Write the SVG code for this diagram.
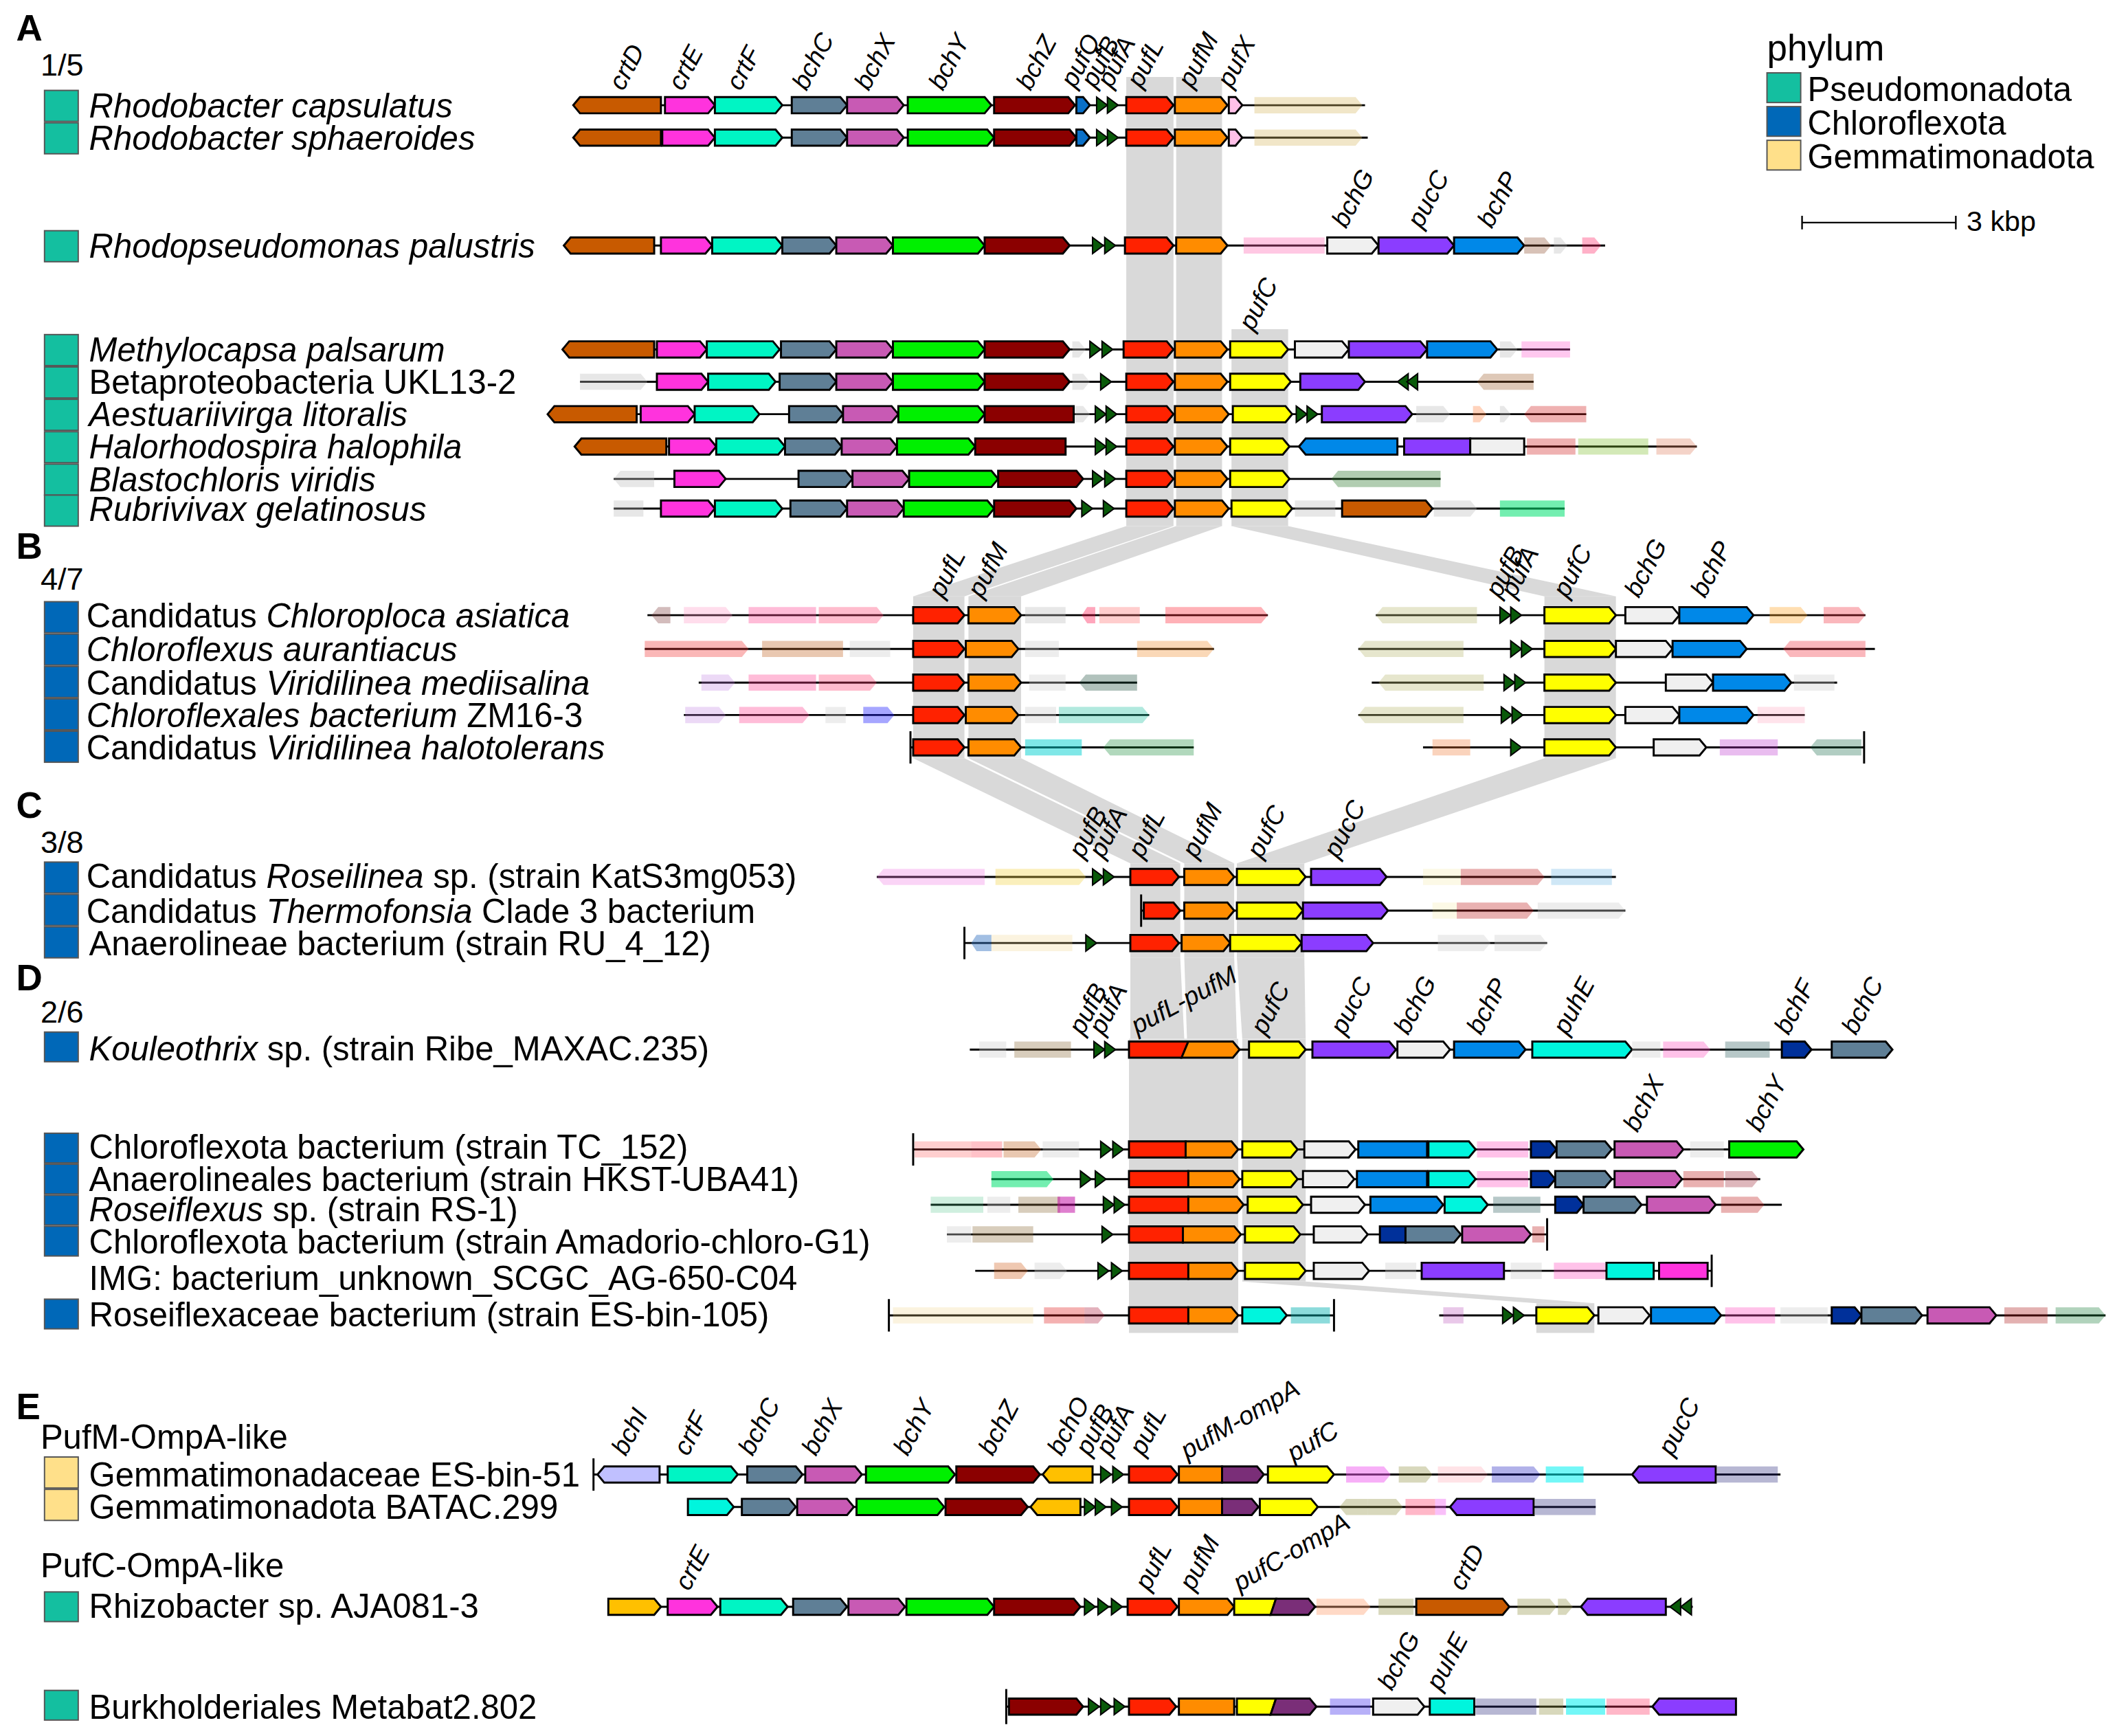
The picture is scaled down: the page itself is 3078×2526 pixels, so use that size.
<svg xmlns="http://www.w3.org/2000/svg" xmlns:xlink="http://www.w3.org/1999/xlink" width="3078" height="2526" viewBox="0 0 3078 2526">
<style>
text{font-family:"Liberation Sans",Arial,sans-serif;fill:#000}
.nm{font-size:25px}
.sec{font-size:27px;font-weight:bold}
.num{font-size:23px}
.gl{font-size:19px;font-style:italic}
.i{font-style:italic}
.ln{stroke:#333;stroke-width:1.2;fill:none}
.tk{stroke:#000;stroke-width:1.2}
.band{fill:#d9d9d9}
.g path{stroke:#000;stroke-width:1.5;stroke-linejoin:miter}
.g path.f{stroke:none;opacity:.35}
.cd{fill:#C85A00}.ce{fill:#FF33DD}.cf{fill:#00F5C4}.bc{fill:#5F7F96}.bx{fill:#C85AB4}.by{fill:#00F000}.bz{fill:#8B0000}
.pq{fill:#0A70C8}.pl{fill:#FF2200}.pm{fill:#FF8C00}.px{fill:#FFC0E8}.pc{fill:#FFFF00}.bg{fill:#F0F0F0}.uc{fill:#8B3DFF}
.bp{fill:#0088E8}.ue{fill:#00F5DD}.bf{fill:#00309A}.bo{fill:#FFC000}.bi{fill:#C0C0FF}.om{fill:#7A2E78}
.ba{fill:#0A5A0A;stroke:#000;stroke-width:1}
.sq1{fill:#14BFA0;stroke:#555;stroke-width:1}.sq2{fill:#0068B8;stroke:#555;stroke-width:1}.sq3{fill:#FFE08A;stroke:#555;stroke-width:1}
</style>
<defs>
<path id="ba" d="M0,-6L8,0L0,6z"/>
<path id="bal" d="M8,-6L0,0L8,6z"/>
</defs>
<g transform="scale(1.963)">
<g id="connectors">
<polygon class="band" points="835,57 870,57 870,390 835,390"/>
<polygon class="band" points="835,390 870,390 715,442 677,442"/>
<polygon class="band" points="677,442 715,442 715,562 677,562"/>
<polygon class="band" points="677,562 715,562 875,640 838,640"/>
<polygon class="band" points="838,640 875,640 875,710 838,710"/>
<polygon class="band" points="838,710 875,710 878,770 838,770"/>
<polygon class="band" points="872,57 906,57 906,390 872,390"/>
<polygon class="band" points="872,390 906,390 757,442 718,442"/>
<polygon class="band" points="718,442 757,442 757,562 718,562"/>
<polygon class="band" points="718,562 757,562 915,640 878,640"/>
<polygon class="band" points="878,640 915,640 915,710 878,710"/>
<polygon class="band" points="878,710 915,710 917,770 880,770"/>
<polygon class="band" points="837,770 918,770 918,988 837,988"/>
<polygon class="band" points="913,244 955,244 955,390 913,390"/>
<polygon class="band" points="913,390 955,390 1198,442 1145,442"/>
<polygon class="band" points="1145,442 1198,442 1198,562 1145,562"/>
<polygon class="band" points="1145,562 1198,562 967,640 917,640"/>
<polygon class="band" points="917,640 967,640 967,710 917,710"/>
<polygon class="band" points="917,710 967,710 968,770 921,770"/>
<polygon class="band" points="921,770 968,770 968,950 921,950"/>
<polygon class="band" points="921,950 968,950 1182,966 1139,966"/>
<polygon class="band" points="1139,966 1182,966 1182,988 1139,988"/>
</g>

<text class="sec" x="12" y="30">A</text><text class="num" x="30" y="56">1/5</text>
<text class="sec" x="12" y="414">B</text><text class="num" x="30" y="437">4/7</text>
<text class="sec" x="12" y="606">C</text><text class="num" x="30" y="632">3/8</text>
<text class="sec" x="12" y="734">D</text><text class="num" x="30" y="758">2/6</text>
<text class="sec" x="12" y="1052">E</text>
<text class="nm" x="30" y="1074">PufM-OmpA-like</text>
<text class="nm" x="30" y="1169">PufC-OmpA-like</text>

<g id="legend">
<text x="1310" y="45" style="font-size:27px">phylum</text>
<rect class="sq1" x="1310" y="54" width="25" height="22"/><text class="nm" x="1340" y="75">Pseudomonadota</text>
<rect class="sq2" x="1310" y="79" width="25" height="22"/><text class="nm" x="1340" y="100">Chloroflexota</text>
<rect class="sq3" x="1310" y="104" width="25" height="22"/><text class="nm" x="1340" y="125">Gemmatimonadota</text>
<path class="tk" d="M1336,165H1450M1336,160V170M1450,160V170"/>
<text x="1458" y="171" style="font-size:21px">3 kbp</text>
</g>

<g id="names">
<rect class="sq1" x="33" y="67" width="25" height="23"/><text class="nm i" x="66" y="87">Rhodobacter capsulatus</text>
<rect class="sq1" x="33" y="91" width="25" height="23"/><text class="nm i" x="66" y="111">Rhodobacter sphaeroides</text>
<rect class="sq1" x="33" y="171" width="25" height="23"/><text class="nm i" x="66" y="191">Rhodopseudomonas palustris</text>
<rect class="sq1" x="33" y="248" width="25" height="23"/><text class="nm i" x="66" y="268">Methylocapsa palsarum</text>
<rect class="sq1" x="33" y="272" width="25" height="23"/><text class="nm" x="66" y="292">Betaproteobacteria UKL13-2</text>
<rect class="sq1" x="33" y="296" width="25" height="23"/><text class="nm i" x="66" y="316">Aestuariivirga litoralis</text>
<rect class="sq1" x="33" y="320" width="25" height="23"/><text class="nm i" x="66" y="340">Halorhodospira halophila</text>
<rect class="sq1" x="33" y="344" width="25" height="23"/><text class="nm i" x="66" y="364">Blastochloris viridis</text>
<rect class="sq1" x="33" y="367" width="25" height="23"/><text class="nm i" x="66" y="386">Rubrivivax gelatinosus</text>

<rect class="sq2" x="33" y="446" width="25" height="23"/><text class="nm" x="64" y="465">Candidatus <tspan class="i">Chloroploca asiatica</tspan></text>
<rect class="sq2" x="33" y="470" width="25" height="23"/><text class="nm i" x="64" y="490">Chloroflexus aurantiacus</text>
<rect class="sq2" x="33" y="494" width="25" height="23"/><text class="nm" x="64" y="515">Candidatus <tspan class="i">Viridilinea mediisalina</tspan></text>
<rect class="sq2" x="33" y="518" width="25" height="23"/><text class="nm" x="64" y="539"><tspan class="i">Chloroflexales bacterium</tspan> ZM16-3</text>
<rect class="sq2" x="33" y="542" width="25" height="23"/><text class="nm" x="64" y="563">Candidatus <tspan class="i">Viridilinea halotolerans</tspan></text>

<rect class="sq2" x="33" y="639" width="25" height="23"/><text class="nm" x="64" y="658">Candidatus <tspan class="i">Roseilinea</tspan> sp. (strain KatS3mg053)</text>
<rect class="sq2" x="33" y="663" width="25" height="23"/><text class="nm" x="64" y="684">Candidatus <tspan class="i">Thermofonsia</tspan> Clade 3 bacterium</text>
<rect class="sq2" x="33" y="687" width="25" height="23"/><text class="nm" x="66" y="708">Anaerolineae bacterium (strain RU_4_12)</text>

<rect class="sq2" x="33" y="765" width="25" height="22"/><text class="nm" x="66" y="786"><tspan class="i">Kouleothrix</tspan> sp. (strain Ribe_MAXAC.235)</text>
<rect class="sq2" x="33" y="840" width="25" height="22"/><text class="nm" x="66" y="859">Chloroflexota bacterium (strain TC_152)</text>
<rect class="sq2" x="33" y="863" width="25" height="22"/><text class="nm" x="66" y="883">Anaerolineales bacterium (strain HKST-UBA41)</text>
<rect class="sq2" x="33" y="886" width="25" height="22"/><text class="nm" x="66" y="905"><tspan class="i">Roseiflexus</tspan> sp. (strain RS-1)</text>
<rect class="sq2" x="33" y="909" width="25" height="22"/><text class="nm" x="66" y="929">Chloroflexota bacterium (strain Amadorio-chloro-G1)</text>
<text class="nm" x="66" y="956">IMG: bacterium_unknown_SCGC_AG-650-C04</text>
<rect class="sq2" x="33" y="963" width="25" height="22"/><text class="nm" x="66" y="983">Roseiflexaceae bacterium (strain ES-bin-105)</text>

<rect class="sq3" x="33" y="1080" width="25" height="23"/><text class="nm" x="66" y="1102">Gemmatimonadaceae ES-bin-51</text>
<rect class="sq3" x="33" y="1104" width="25" height="23"/><text class="nm" x="66" y="1126">Gemmatimonadota BATAC.299</text>
<rect class="sq1" x="33" y="1180" width="25" height="22"/><text class="nm" x="66" y="1199">Rhizobacter sp. AJA081-3</text>
<rect class="sq1" x="33" y="1253" width="25" height="22"/><text class="nm" x="66" y="1274">Burkholderiales Metabat2.802</text>
</g>

<g id="labels">
<text class="gl" transform="translate(462,68) rotate(-62)">crtD</text>
<text class="gl" transform="translate(506,68) rotate(-62)">crtE</text>
<text class="gl" transform="translate(549,68) rotate(-62)">crtF</text>
<text class="gl" transform="translate(598,68) rotate(-62)">bchC</text>
<text class="gl" transform="translate(644,68) rotate(-62)">bchX</text>
<text class="gl" transform="translate(699,68) rotate(-62)">bchY</text>
<text class="gl" transform="translate(764,68) rotate(-62)">bchZ</text>
<text class="gl" transform="translate(797,66) rotate(-62)">pufQ</text>
<text class="gl" transform="translate(812,66) rotate(-62)">pufB</text>
<text class="gl" transform="translate(824,66) rotate(-62)">pufA</text>
<text class="gl" transform="translate(846,66) rotate(-62)">pufL</text>
<text class="gl" transform="translate(884,66) rotate(-62)">pufM</text>
<text class="gl" transform="translate(913,66) rotate(-62)">pufX</text>
<text class="gl" transform="translate(998,170) rotate(-62)">bchG</text>
<text class="gl" transform="translate(1054,170) rotate(-62)">pucC</text>
<text class="gl" transform="translate(1106,170) rotate(-62)">bchP</text>
<text class="gl" transform="translate(929,246) rotate(-62)">pufC</text>
<text class="gl" transform="translate(699,444) rotate(-62)">pufL</text>
<text class="gl" transform="translate(728,444) rotate(-62)">pufM</text>
<text class="gl" transform="translate(1112,444) rotate(-62)">pufB</text>
<text class="gl" transform="translate(1123,444) rotate(-62)">pufA</text>
<text class="gl" transform="translate(1162,444) rotate(-62)">pufC</text>
<text class="gl" transform="translate(1215,444) rotate(-62)">bchG</text>
<text class="gl" transform="translate(1264,444) rotate(-62)">bchP</text>
<text class="gl" transform="translate(803,637) rotate(-62)">pufB</text>
<text class="gl" transform="translate(818,637) rotate(-62)">pufA</text>
<text class="gl" transform="translate(847,637) rotate(-62)">pufL</text>
<text class="gl" transform="translate(887,637) rotate(-62)">pufM</text>
<text class="gl" transform="translate(935,637) rotate(-62)">pufC</text>
<text class="gl" transform="translate(992,637) rotate(-62)">pucC</text>
<text class="gl" transform="translate(803,768) rotate(-62)">pufB</text>
<text class="gl" transform="translate(818,768) rotate(-62)">pufA</text>
<text class="gl" transform="translate(843,767) rotate(-28)">pufL-pufM</text>
<text class="gl" transform="translate(938,768) rotate(-62)">pufC</text>
<text class="gl" transform="translate(997,768) rotate(-62)">pucC</text>
<text class="gl" transform="translate(1044,768) rotate(-62)">bchG</text>
<text class="gl" transform="translate(1098,768) rotate(-62)">bchP</text>
<text class="gl" transform="translate(1162,768) rotate(-62)">puhE</text>
<text class="gl" transform="translate(1326,768) rotate(-62)">bchF</text>
<text class="gl" transform="translate(1376,768) rotate(-62)">bchC</text>
<text class="gl" transform="translate(1214,840) rotate(-62)">bchX</text>
<text class="gl" transform="translate(1305,840) rotate(-62)">bchY</text>
<text class="gl" transform="translate(464,1080) rotate(-62)">bchI</text>
<text class="gl" transform="translate(510,1080) rotate(-62)">crtF</text>
<text class="gl" transform="translate(558,1080) rotate(-62)">bchC</text>
<text class="gl" transform="translate(605,1080) rotate(-62)">bchX</text>
<text class="gl" transform="translate(673,1080) rotate(-62)">bchY</text>
<text class="gl" transform="translate(736,1080) rotate(-62)">bchZ</text>
<text class="gl" transform="translate(787,1080) rotate(-62)">bchO</text>
<text class="gl" transform="translate(808,1080) rotate(-62)">pufB</text>
<text class="gl" transform="translate(823,1080) rotate(-62)">pufA</text>
<text class="gl" transform="translate(848,1080) rotate(-62)">pufL</text>
<text class="gl" transform="translate(880,1082) rotate(-30)">pufM-ompA</text>
<text class="gl" transform="translate(959,1084) rotate(-30)">pufC</text>
<text class="gl" transform="translate(1240,1080) rotate(-62)">pucC</text>
<text class="gl" transform="translate(511,1180) rotate(-62)">crtE</text>
<text class="gl" transform="translate(852,1180) rotate(-62)">pufL</text>
<text class="gl" transform="translate(885,1180) rotate(-62)">pufM</text>
<text class="gl" transform="translate(919,1180) rotate(-30)">pufC-ompA</text>
<text class="gl" transform="translate(1085,1180) rotate(-62)">crtD</text>
<text class="gl" transform="translate(1032,1254) rotate(-62)">bchG</text>
<text class="gl" transform="translate(1068,1254) rotate(-62)">puhE</text>
</g>

<g id="rows">
<g id="r-caps" class="g" transform="translate(0,78)">
<path class="ln" d="M425,0H1012"/>
<path class="cd" d="M490,-6V6H430L425,0L430,-6z"/>
<path class="ce" d="M493,-6H525l5,6-5,6H493z"/><path class="cf" d="M530,-6H575l5,6-5,6H530z"/>
<path class="bc" d="M587,-6H623l5,6-5,6H587z"/><path class="bx" d="M628,-6H665l5,6-5,6H628z"/>
<path class="by" d="M673,-6H730l5,6-5,6H673z"/><path class="bz" d="M737,-6H792l5,6-5,6H737z"/>
<path class="pq" d="M798,-6H803l5,6-5,6H798z"/>
<use href="#ba" class="ba" x="813"/><use href="#ba" class="ba" x="821"/>
<path class="pl" d="M835,-6H865l5,6-5,6H835z"/><path class="pm" d="M871,-6H905l5,6-5,6H871z"/>
<path class="px" d="M911,-6H916l5,6-5,6H911z"/>
<path class="f" style="fill:#D8B860" d="M930,-6H1005l5,6-5,6H930z"/>
</g>
<g id="r-sph" class="g" transform="translate(0,102)">
<path class="ln" d="M425,0H1014"/>
<path class="cd" d="M490,-6V6H430L425,0L430,-6z"/>
<path class="ce" d="M491,-6H525l5,6-5,6H491z"/><path class="cf" d="M530,-6H575l5,6-5,6H530z"/>
<path class="bc" d="M587,-6H623l5,6-5,6H587z"/><path class="bx" d="M628,-6H665l5,6-5,6H628z"/>
<path class="by" d="M673,-6H732l5,6-5,6H673z"/><path class="bz" d="M737,-6H793l5,6-5,6H737z"/>
<path class="pq" d="M798,-6H803l5,6-5,6H798z"/>
<use href="#ba" class="ba" x="813"/><use href="#ba" class="ba" x="821"/>
<path class="pl" d="M835,-6H865l5,6-5,6H835z"/><path class="pm" d="M871,-6H905l5,6-5,6H871z"/>
<path class="px" d="M911,-6H916l5,6-5,6H911z"/>
<path class="f" style="fill:#D8B860" d="M930,-6H1005l5,6-5,6H930z"/>
</g>
<g id="r-pal" class="g" transform="translate(0,182)">
<path class="ln" d="M418,0H1190"/>
<path class="cd" d="M485,-6V6H423L418,0L423,-6z"/>
<path class="ce" d="M490,-6H523l5,6-5,6H490z"/><path class="cf" d="M528,-6H575l5,6-5,6H528z"/>
<path class="bc" d="M580,-6H615l5,6-5,6H580z"/><path class="bx" d="M620,-6H657l5,6-5,6H620z"/>
<path class="by" d="M662,-6H725l5,6-5,6H662z"/><path class="bz" d="M730,-6H788l5,6-5,6H730z"/>
<use href="#ba" class="ba" x="810"/><use href="#ba" class="ba" x="819"/>
<path class="pl" d="M834,-6H865l5,6-5,6H834z"/><path class="pm" d="M872,-6H905l5,6-5,6H872z"/>
<path class="f" style="fill:#FF60B0" d="M922,-6H982V6H922z"/>
<path class="bg" d="M984,-6H1017l5,6-5,6H984z"/><path class="uc" d="M1022,-6H1073l5,6-5,6H1022z"/>
<path class="bp" d="M1078,-6H1125l5,6-5,6H1078z"/>
<path class="f" style="fill:#905030" d="M1130,-6H1145l5,6-5,6H1130z"/>
<path class="f" style="fill:#bbb" d="M1152,-6H1157l5,6-5,6H1152z"/>
<path class="f" style="fill:#FF2060" d="M1173,-6H1182l5,6-5,6H1173z"/>
</g>
<g id="r-methylo" class="g" transform="translate(0,259)">
<path class="ln" d="M417,0H1164"/>
<path class="cd" d="M485,-6V6H422L417,0L422,-6z"/>
<path class="ce" d="M487,-6H519l5,6-5,6H487z"/><path class="cf" d="M524,-6H573l5,6-5,6H524z"/>
<path class="bc" d="M579,-6H615l5,6-5,6H579z"/><path class="bx" d="M620,-6H657l5,6-5,6H620z"/>
<path class="by" d="M662,-6H725l5,6-5,6H662z"/><path class="bz" d="M730,-6H788l5,6-5,6H730z"/>
<path class="f" style="fill:#bbb" d="M795,-6H800l5,6-5,6H795z"/>
<use href="#ba" class="ba" x="808"/><use href="#ba" class="ba" x="817"/>
<path class="pl" d="M833,-6H865l5,6-5,6H833z"/><path class="pm" d="M871,-6H905l5,6-5,6H871z"/>
<path class="pc" d="M912,-6H950l5,6-5,6H912z"/><path class="bg" d="M960,-6H995l5,6-5,6H960z"/>
<path class="uc" d="M1000,-6H1053l5,6-5,6H1000z"/><path class="bp" d="M1058,-6H1105l5,6-5,6H1058z"/>
<path class="f" style="fill:#bbb" d="M1112,-6H1120l5,6-5,6H1112z"/>
<path class="f" style="fill:#FF60D0" d="M1128,-6H1164V6H1128z"/>
</g>
<g id="r-beta" class="g" transform="translate(0,283)">
<path class="ln" d="M430,0H1137"/>
<path class="f" style="fill:#bbb" d="M430,-6H475l5,6-5,6H430z"/>
<path class="ce" d="M487,-6H520l5,6-5,6H487z"/><path class="cf" d="M525,-6H570l5,6-5,6H525z"/>
<path class="bc" d="M578,-6H615l5,6-5,6H578z"/><path class="bx" d="M620,-6H657l5,6-5,6H620z"/>
<path class="by" d="M662,-6H725l5,6-5,6H662z"/><path class="bz" d="M730,-6H788l5,6-5,6H730z"/>
<path class="f" style="fill:#bbb" d="M795,-6H803l5,6-5,6H795z"/>
<use href="#ba" class="ba" x="816"/>
<path class="pl" d="M835,-6H865l5,6-5,6H835z"/><path class="pm" d="M871,-6H905l5,6-5,6H871z"/>
<path class="pc" d="M912,-6H952l5,6-5,6H912z"/><path class="uc" d="M964,-6H1007l5,6-5,6H964z"/>
<use href="#bal" class="ba" x="1036"/><use href="#bal" class="ba" x="1043"/>
<path class="f" style="fill:#A06030" d="M1100,-6H1137V6H1100L1095,0z"/>
</g>
<g id="r-aest" class="g" transform="translate(0,307)">
<path class="ln" d="M406,0H1176"/>
<path class="cd" d="M472,-6V6H411L406,0L411,-6z"/>
<path class="ce" d="M475,-6H510l5,6-5,6H475z"/><path class="cf" d="M515,-6H558l5,6-5,6H515z"/>
<path class="bc" d="M585,-6H620l5,6-5,6H585z"/><path class="bx" d="M625,-6H661l5,6-5,6H625z"/>
<path class="by" d="M666,-6H725l5,6-5,6H666z"/><path class="bz" d="M730,-6H796V6H730z"/>
<path class="f" style="fill:#bbb" d="M797,-6H803l5,6-5,6H797z"/>
<use href="#ba" class="ba" x="812"/><use href="#ba" class="ba" x="820"/>
<path class="pl" d="M835,-6H865l5,6-5,6H835z"/><path class="pm" d="M871,-6H906l5,6-5,6H871z"/>
<path class="pc" d="M914,-6H953l5,6-5,6H914z"/>
<use href="#ba" class="ba" x="961"/><use href="#ba" class="ba" x="969"/>
<path class="uc" d="M980,-6H1042l5,6-5,6H980z"/>
<path class="f" style="fill:#bbb" d="M1050,-6H1070l5,6-5,6H1050z"/>
<path class="f" style="fill:#FF8040" d="M1092,-6H1097l5,6-5,6H1092z"/>
<path class="f" style="fill:#bbb" d="M1112,-6H1115l5,6-5,6H1112z"/>
<path class="f" style="fill:#D02020" d="M1135,-6H1176V6H1135L1130,0z"/>
</g>
<g id="r-halo" class="g" transform="translate(0,331)">
<path class="ln" d="M426,0H1258"/>
<path class="cd" d="M494,-6V6H431L426,0L431,-6z"/>
<path class="ce" d="M496,-6H526l5,6-5,6H496z"/><path class="cf" d="M531,-6H577l5,6-5,6H531z"/>
<path class="bc" d="M582,-6H619l5,6-5,6H582z"/><path class="bx" d="M624,-6H660l5,6-5,6H624z"/>
<path class="by" d="M665,-6H718l5,6-5,6H665z"/><path class="bz" d="M723,-6H790V6H723z"/>
<use href="#ba" class="ba" x="812"/><use href="#ba" class="ba" x="820"/>
<path class="pl" d="M835,-6H865l5,6-5,6H835z"/><path class="pm" d="M871,-6H905l5,6-5,6H871z"/>
<path class="pc" d="M912,-6H951l5,6-5,6H912z"/>
<path class="bp" d="M1036,-6V6H968L963,0L968,-6z"/>
<path class="uc" d="M1041,-6V6H1090V-6z"/>
<path class="bg" d="M1090,-6H1130V6H1090z"/>
<path class="f" style="fill:#D02020" d="M1132,-6H1168V6H1132z"/>
<path class="f" style="fill:#80C030" d="M1170,-6H1222V6H1170z"/>
<path class="f" style="fill:#E08060" d="M1228,-6H1253l5,6-5,6H1228z"/>
</g>
<g id="r-blasto" class="g" transform="translate(0,355)">
<path class="ln" d="M455,0H1068"/>
<path class="f" style="fill:#bbb" d="M460,-6H485V6H460L455,0z"/>
<path class="ce" d="M500,-6H533l5,6-5,6H500z"/>
<path class="bc" d="M592,-6H627l5,6-5,6H592z"/><path class="bx" d="M632,-6H669l5,6-5,6H632z"/>
<path class="by" d="M674,-6H735l5,6-5,6H674z"/><path class="bz" d="M740,-6H798l5,6-5,6H740z"/>
<use href="#ba" class="ba" x="810"/><use href="#ba" class="ba" x="819"/>
<path class="pl" d="M835,-6H865l5,6-5,6H835z"/><path class="pm" d="M871,-6H905l5,6-5,6H871z"/>
<path class="pc" d="M912,-6H951l5,6-5,6H912z"/>
<path class="f" style="fill:#207020" d="M992,-6H1068V6H992L987,0z"/>
</g>
<g id="r-rubri" class="g" transform="translate(0,377)">
<path class="ln" d="M455,0H1160"/>
<path class="f" style="fill:#bbb" d="M455,-6H477V6H455z"/>
<path class="ce" d="M490,-6H525l5,6-5,6H490z"/><path class="cf" d="M530,-6H575l5,6-5,6H530z"/>
<path class="bc" d="M586,-6H623l5,6-5,6H586z"/><path class="bx" d="M628,-6H665l5,6-5,6H628z"/>
<path class="by" d="M670,-6H732l5,6-5,6H670z"/><path class="bz" d="M737,-6H793l5,6-5,6H737z"/>
<use href="#ba" class="ba" x="802"/><use href="#ba" class="ba" x="818"/>
<path class="pl" d="M835,-6H865l5,6-5,6H835z"/><path class="pm" d="M871,-6H906l5,6-5,6H871z"/>
<path class="pc" d="M913,-6H953l5,6-5,6H913z"/>
<path class="f" style="fill:#bbb" d="M960,-6H990V6H960z"/>
<path class="cd" d="M995,-6H1057l5,6-5,6H995z"/>
<path class="f" style="fill:#bbb" d="M1063,-6H1090l5,6-5,6H1063z"/>
<path class="f" style="fill:#00E070;opacity:.55" d="M1112,-6H1160V6H1112z"/>
</g>

<g id="r-chloroploca" class="g" transform="translate(0,456)">
<path class="ln" d="M480,0H940M1020,0H1383"/>
<path class="f" style="fill:#804040" d="M488,-6H497V6H488L483,0z"/>
<path class="f" style="fill:#FF90C0;opacity:.3" d="M507,-6H538l5,6-5,6H507z"/>
<path class="f" style="fill:#FF4090" d="M555,-6H605V6H555z"/><path class="f" style="fill:#FF4070" d="M607,-6H650l5,6-5,6H607z"/>
<path class="pl" d="M677,-6H710l5,6-5,6H677z"/><path class="pm" d="M718,-6H752l5,6-5,6H718z"/>
<path class="f" style="fill:#bbb" d="M760,-6H790V6H760z"/>
<path class="f" style="fill:#FF0040" d="M806,-6H812V6H806L802,0z"/><path class="f" style="fill:#FF7070" d="M815,-6H845V6H815z"/>
<path class="f" style="fill:#FF2030" d="M864,-6H935l5,6-5,6H864z"/>
<path class="f" style="fill:#B8B870" d="M1025,-6H1095V6H1025L1020,0z"/>
<use href="#ba" class="ba" x="1112"/><use href="#ba" class="ba" x="1120"/>
<path class="pc" d="M1145,-6H1193l5,6-5,6H1145z"/><path class="bg" d="M1205,-6H1240l5,6-5,6H1205z"/>
<path class="bp" d="M1245,-6H1295l5,6-5,6H1245z"/>
<path class="f" style="fill:#FFA020" d="M1312,-6H1335l5,6-5,6H1312z"/>
<path class="f" style="fill:#F03040" d="M1352,-6H1378l5,6-5,6H1352z"/>
</g>
<g id="r-chloroflexus" class="g" transform="translate(0,481)">
<path class="ln" d="M478,0H900M1007,0H1390"/>
<path class="f" style="fill:#F03030" d="M478,-6H550l5,6-5,6H478z"/>
<path class="f" style="fill:#C06020" d="M565,-6H625V6H565z"/>
<path class="f" style="fill:#ccc" d="M630,-6H660V6H630z"/>
<path class="pl" d="M677,-6H710l5,6-5,6H677z"/><path class="pm" d="M716,-6H750l5,6-5,6H716z"/>
<path class="f" style="fill:#ccc" d="M760,-6H785V6H760z"/>
<path class="f" style="fill:#F09030" d="M843,-6H895l5,6-5,6H843z"/>
<path class="f" style="fill:#B8B870" d="M1012,-6H1085V6H1012L1007,0z"/>
<use href="#ba" class="ba" x="1120"/><use href="#ba" class="ba" x="1128"/>
<path class="pc" d="M1145,-6H1193l5,6-5,6H1145z"/><path class="bg" d="M1198,-6H1235l5,6-5,6H1198z"/>
<path class="bp" d="M1240,-6H1290l5,6-5,6H1240z"/>
<path class="f" style="fill:#F03040" d="M1327,-6H1383V6H1327L1322,0z"/>
</g>
<g id="r-vmed" class="g" transform="translate(0,506)">
<path class="ln" d="M518,0H843M1017,0H1362"/>
<path class="f" style="fill:#C080E0;opacity:.3" d="M520,-6H540l5,6-5,6H520z"/>
<path class="f" style="fill:#FF4090" d="M555,-6H605V6H555z"/><path class="f" style="fill:#FF4070" d="M607,-6H645l5,6-5,6H607z"/>
<path class="pl" d="M677,-6H710l5,6-5,6H677z"/><path class="pm" d="M718,-6H752l5,6-5,6H718z"/>
<path class="f" style="fill:#ccc" d="M763,-6H790V6H763z"/>
<path class="f" style="fill:#205040" d="M805,-6H843V6H805L800,0z"/>
<path class="f" style="fill:#B8B870" d="M1027,-6H1100V6H1027L1022,0z"/>
<use href="#ba" class="ba" x="1115"/><use href="#ba" class="ba" x="1123"/>
<path class="pc" d="M1145,-6H1193l5,6-5,6H1145z"/><path class="bg" d="M1235,-6H1265l5,6-5,6H1235z"/>
<path class="bp" d="M1270,-6H1323l5,6-5,6H1270z"/>
<path class="f" style="fill:#ccc" d="M1330,-6H1360V6H1330z"/>
</g>
<g id="r-zm16" class="g" transform="translate(0,530)">
<path class="ln" d="M507,0H852M1007,0H1338"/>
<path class="f" style="fill:#C080E0;opacity:.3" d="M508,-6H533l5,6-5,6H508z"/>
<path class="f" style="fill:#FF4090" d="M548,-6H595l5,6-5,6H548z"/>
<path class="f" style="fill:#ccc" d="M612,-6H627V6H612z"/>
<path class="f" style="fill:#2020FF;opacity:.4" d="M640,-6H658l5,6-5,6H640z"/>
<path class="pl" d="M677,-6H710l5,6-5,6H677z"/><path class="pm" d="M716,-6H750l5,6-5,6H716z"/>
<path class="f" style="fill:#ccc" d="M760,-6H783V6H760z"/>
<path class="f" style="fill:#20C0A0" d="M785,-6H847l5,6-5,6H785z"/>
<path class="f" style="fill:#B8B870" d="M1012,-6H1085V6H1012L1007,0z"/>
<use href="#ba" class="ba" x="1113"/><use href="#ba" class="ba" x="1121"/>
<path class="pc" d="M1145,-6H1193l5,6-5,6H1145z"/><path class="bg" d="M1205,-6H1240l5,6-5,6H1205z"/>
<path class="bp" d="M1245,-6H1295l5,6-5,6H1245z"/>
<path class="f" style="fill:#FF90B0;opacity:.25" d="M1303,-6H1338V6H1303z"/>
</g>
<g id="r-vhalo" class="g" transform="translate(0,554)">
<path class="ln" d="M675,0H885M1055,0H1382"/>
<path class="tk" d="M675,-12V12M1382,-12V12"/>
<path class="pl" d="M677,-6H710l5,6-5,6H677z"/><path class="pm" d="M718,-6H752l5,6-5,6H718z"/>
<path class="f" style="fill:#00D0D0;opacity:.5" d="M760,-6H802V6H760z"/>
<path class="f" style="fill:#209040" d="M823,-6H885V6H823L818,0z"/>
<path class="f" style="fill:#F08040" d="M1062,-6H1090V6H1062z"/>
<use href="#ba" class="ba" x="1120"/>
<path class="pc" d="M1145,-6H1193l5,6-5,6H1145z"/><path class="bg" d="M1226,-6H1260l5,6-5,6H1226z"/>
<path class="f" style="fill:#C040D0" d="M1275,-6H1318V6H1275z"/>
<path class="f" style="fill:#207050" d="M1347,-6H1380V6H1347L1342,0z"/>
</g>

<g id="r-roseilinea" class="g" transform="translate(0,650)">
<path class="ln" d="M650,0H1198"/>
<path class="f" style="fill:#F070E0;opacity:.3" d="M655,-6H730V6H655L650,0z"/>
<path class="f" style="fill:#F0D040" d="M738,-6H800l5,6-5,6H738z"/>
<use href="#ba" class="ba" x="810"/><use href="#ba" class="ba" x="818"/>
<path class="pl" d="M838,-6H869l5,6-5,6H838z"/><path class="pm" d="M878,-6H910l5,6-5,6H878z"/>
<path class="pc" d="M917,-6H963l5,6-5,6H917z"/><path class="uc" d="M972,-6H1023l5,6-5,6H972z"/>
<path class="f" style="fill:#F0E080;opacity:.2" d="M1055,-6H1083V6H1055z"/>
<path class="f" style="fill:#C02020" d="M1083,-6H1140l5,6-5,6H1083z"/>
<path class="f" style="fill:#60B0E0;opacity:.3" d="M1150,-6H1195V6H1150z"/>
</g>
<g id="r-thermo" class="g" transform="translate(0,675)">
<path class="ln" d="M846,0H1205"/>
<path class="tk" d="M846,-12V12"/>
<path class="pl" d="M848,-6H870l5,6-5,6H848z"/><path class="pm" d="M878,-6H910l5,6-5,6H878z"/>
<path class="pc" d="M917,-6H961l5,6-5,6H917z"/><path class="uc" d="M966,-6H1024l5,6-5,6H966z"/>
<path class="f" style="fill:#F0E080;opacity:.2" d="M1062,-6H1080V6H1062z"/>
<path class="f" style="fill:#C02020" d="M1080,-6H1132l5,6-5,6H1080z"/>
<path class="f" style="fill:#ccc" d="M1140,-6H1200l5,6-5,6H1140z"/>
</g>
<g id="r-ru412" class="g" transform="translate(0,699)">
<path class="ln" d="M715,0H1147"/>
<path class="tk" d="M715,-12V12"/>
<path class="f" style="fill:#3070C0;opacity:.45" d="M724,-6H735V6H724L720,0z"/>
<path class="f" style="fill:#F0D080;opacity:.25" d="M735,-6H795V6H735z"/>
<use href="#ba" class="ba" x="805"/>
<path class="pl" d="M838,-6H869l5,6-5,6H838z"/><path class="pm" d="M876,-6H907l5,6-5,6H876z"/>
<path class="pc" d="M912,-6H960l5,6-5,6H912z"/><path class="uc" d="M965,-6H1013l5,6-5,6H965z"/>
<path class="f" style="fill:#ccc" d="M1066,-6H1100l5,6-5,6H1066z"/><path class="f" style="fill:#ccc" d="M1108,-6H1142l5,6-5,6H1108z"/>
</g>

<g id="r-kouleo" class="g" transform="translate(0,778)">
<path class="ln" d="M719,0H1403"/>
<path class="f" style="fill:#ccc" d="M726,-6H746V6H726z"/>
<path class="f" style="fill:#907040" d="M752,-6H794V6H752z"/>
<use href="#ba" class="ba" x="811"/><use href="#ba" class="ba" x="819"/>
<path class="pl" d="M837,-6H881L876,6H837z"/><path class="pm" d="M881,-6H914l5,6-5,6H876z"/>
<path class="pc" d="M926,-6H963l5,6-5,6H926z"/><path class="uc" d="M973,-6H1030l5,6-5,6H973z"/>
<path class="bg" d="M1036,-6H1070l5,6-5,6H1036z"/><path class="bp" d="M1078,-6H1126l5,6-5,6H1078z"/>
<path class="ue" d="M1136,-6H1205l5,6-5,6H1136z"/>
<path class="f" style="fill:#ccc" d="M1210,-6H1231V6H1210z"/>
<path class="f" style="fill:#FF50C0" d="M1233,-6H1263l5,6-5,6H1233z"/>
<path class="f" style="fill:#306060" d="M1279,-6H1312V6H1279z"/>
<path class="bf" d="M1321,-6H1338l5,6-5,6H1321z"/><path class="bc" d="M1358,-6H1398l5,6-5,6H1358z"/>
</g>
<g id="r-tc152" class="g" transform="translate(0,852)">
<path class="ln" d="M677,0H1337"/>
<path class="tk" d="M677,-12V12"/>
<path class="f" style="fill:#FF6060;opacity:.3" d="M678,-6H720V6H678z"/>
<path class="f" style="fill:#FF5060" d="M720,-6H743V6H720z"/>
<path class="f" style="fill:#C06020" d="M744,-6H767l5,6-5,6H744z"/>
<path class="f" style="fill:#ccc" d="M773,-6H800V6H773z"/>
<use href="#ba" class="ba" x="816"/><use href="#ba" class="ba" x="825"/>
<path class="pl" d="M837,-6H879V6H837z"/><path class="pm" d="M879,-6H913l5,6-5,6H879z"/>
<path class="pc" d="M921,-6H957l5,6-5,6H921z"/><path class="bg" d="M967,-6H1000l5,6-5,6H967z"/>
<path class="bp" d="M1007,-6H1058V6H1007z"/><path class="ue" d="M1059,-6H1089l5,6-5,6H1059z"/>
<path class="f" style="fill:#FF50C0" d="M1095,-6H1133V6H1095z"/>
<path class="bf" d="M1135,-6H1149l5,6-5,6H1135z"/><path class="bc" d="M1154,-6H1190l5,6-5,6H1154z"/>
<path class="bx" d="M1197,-6H1243l5,6-5,6H1197z"/>
<path class="f" style="fill:#ccc" d="M1253,-6H1278V6H1253z"/>
<path class="by" d="M1282,-6H1332l5,6-5,6H1282z"/>
</g>
<g id="r-hkst" class="g" transform="translate(0,874)">
<path class="ln" d="M735,0H1305"/>
<path class="f" style="fill:#00E070;opacity:.55" d="M735,-6H776l5,6-5,6H735z"/>
<use href="#ba" class="ba" x="801"/><use href="#ba" class="ba" x="812"/>
<path class="pl" d="M837,-6H881V6H837z"/><path class="pm" d="M881,-6H914l5,6-5,6H881z"/>
<path class="pc" d="M921,-6H957l5,6-5,6H921z"/><path class="bg" d="M966,-6H999l5,6-5,6H966z"/>
<path class="bp" d="M1006,-6H1058V6H1006z"/><path class="ue" d="M1059,-6H1089l5,6-5,6H1059z"/>
<path class="f" style="fill:#FF50C0" d="M1095,-6H1133V6H1095z"/>
<path class="bf" d="M1135,-6H1148l5,6-5,6H1135z"/><path class="bc" d="M1153,-6H1190l5,6-5,6H1153z"/>
<path class="bx" d="M1197,-6H1242l5,6-5,6H1197z"/>
<path class="f" style="fill:#C02020" d="M1248,-6H1278V6H1248z"/>
<path class="f" style="fill:#A03040" d="M1279,-6H1299l5,6-5,6H1279z"/>
</g>
<g id="r-rs1" class="g" transform="translate(0,893)">
<path class="ln" d="M690,0H1321"/>
<path class="f" style="fill:#40C080;opacity:.25" d="M690,-6H729V6H690z"/>
<path class="f" style="fill:#ccc" d="M732,-6H749V6H732z"/>
<path class="f" style="fill:#907040" d="M755,-6H786V6H755z"/>
<path class="f" style="fill:#C000A0;opacity:.5" d="M784,-6H797V6H784z"/>
<use href="#ba" class="ba" x="818"/><use href="#ba" class="ba" x="826"/>
<path class="pl" d="M837,-6H881V6H837z"/><path class="pm" d="M881,-6H917l5,6-5,6H881z"/>
<path class="pc" d="M925,-6H961l5,6-5,6H925z"/><path class="bg" d="M972,-6H1007l5,6-5,6H972z"/>
<path class="bp" d="M1016,-6H1065l5,6-5,6H1016z"/><path class="ue" d="M1071,-6H1098l5,6-5,6H1071z"/>
<path class="f" style="fill:#306060" d="M1107,-6H1142V6H1107z"/>
<path class="bf" d="M1153,-6H1169l5,6-5,6H1153z"/><path class="bc" d="M1174,-6H1212l5,6-5,6H1174z"/>
<path class="bx" d="M1221,-6H1267l5,6-5,6H1221z"/>
<path class="f" style="fill:#C02020" d="M1276,-6H1303l5,6-5,6H1276z"/>
</g>
<g id="r-amadorio" class="g" transform="translate(0,915)">
<path class="ln" d="M702,0H1147"/>
<path class="tk" d="M1147,-12V12"/>
<path class="f" style="fill:#ccc" d="M702,-6H720V6H702z"/>
<path class="f" style="fill:#907040" d="M721,-6H766V6H721z"/>
<use href="#ba" class="ba" x="817"/>
<path class="pl" d="M837,-6H877V6H837z"/><path class="pm" d="M877,-6H915l5,6-5,6H877z"/>
<path class="pc" d="M923,-6H959l5,6-5,6H923z"/><path class="bg" d="M974,-6H1009l5,6-5,6H974z"/>
<path class="bf" d="M1023,-6H1042V6H1023z"/><path class="bc" d="M1042,-6H1078l5,6-5,6H1042z"/>
<path class="bx" d="M1084,-6H1130l5,6-5,6H1084z"/>
<path class="f" style="fill:#C02020" d="M1136,-6H1145V6H1136z"/>
</g>
<g id="r-img" class="g" transform="translate(0,942)">
<path class="ln" d="M723,0H1269"/>
<path class="tk" d="M1269,-12V12"/>
<path class="f" style="fill:#D06020" d="M737,-6H757l5,6-5,6H737z"/>
<path class="f" style="fill:#ccc" d="M767,-6H786l5,6-5,6H767z"/>
<use href="#ba" class="ba" x="814"/><use href="#ba" class="ba" x="824"/>
<path class="pl" d="M837,-6H881V6H837z"/><path class="pm" d="M881,-6H913l5,6-5,6H881z"/>
<path class="pc" d="M923,-6H963l5,6-5,6H923z"/><path class="bg" d="M974,-6H1010l5,6-5,6H974z"/>
<path class="f" style="fill:#ccc" d="M1027,-6H1050V6H1027z"/>
<path class="uc" d="M1054,-6H1115V6H1054z"/>
<path class="f" style="fill:#ccc" d="M1120,-6H1143V6H1120z"/>
<path class="f" style="fill:#FF50C0" d="M1152,-6H1190V6H1152z"/>
<path class="ue" d="M1191,-6H1226V6H1191z"/><path class="ce" d="M1230,-6H1266V6H1230z"/>
</g>
<g id="r-esbin105" class="g" transform="translate(0,975)">
<path class="ln" d="M659,0H989M1067,0H1561"/>
<path class="tk" d="M659,-12V12M989,-12V12"/>
<path class="f" style="fill:#F0D080;opacity:.25" d="M662,-6H766V6H662z"/>
<path class="f" style="fill:#E02020" d="M774,-6H804V6H774z"/>
<path class="f" style="fill:#B02040" d="M804,-6H814l5,6-5,6H804z"/>
<path class="pl" d="M837,-6H881V6H837z"/><path class="pm" d="M881,-6H913l5,6-5,6H881z"/>
<path class="ue" d="M921,-6H949l5,6-5,6H921z"/>
<path class="f" style="fill:#00B0B0;opacity:.45" d="M957,-6H986V6H957z"/>
<path class="f" style="fill:#C060C0" d="M1070,-6H1085V6H1070z"/>
<use href="#ba" class="ba" x="1114"/><use href="#ba" class="ba" x="1122"/>
<path class="pc" d="M1139,-6H1177l5,6-5,6H1139z"/><path class="bg" d="M1185,-6H1218l5,6-5,6H1185z"/>
<path class="bp" d="M1224,-6H1271l5,6-5,6H1224z"/>
<path class="f" style="fill:#FF50C0" d="M1279,-6H1316V6H1279z"/>
<path class="f" style="fill:#ccc" d="M1320,-6H1355V6H1320z"/>
<path class="bf" d="M1358,-6H1375l5,6-5,6H1358z"/><path class="bc" d="M1380,-6H1420l5,6-5,6H1380z"/>
<path class="bx" d="M1429,-6H1475l5,6-5,6H1429z"/>
<path class="f" style="fill:#B02020" d="M1486,-6H1518V6H1486z"/>
<path class="f" style="fill:#208040" d="M1524,-6H1556l5,6-5,6H1524z"/>
</g>

<g id="r-esbin51" class="g" transform="translate(0,1093)">
<path class="ln" d="M440,0H1320"/>
<path class="tk" d="M440,-12V12"/>
<path class="bi" d="M489,-6V6H448L443,0L448,-6z"/>
<path class="cf" d="M495,-6H542l5,6-5,6H495z"/><path class="bc" d="M554,-6H590l5,6-5,6H554z"/>
<path class="bx" d="M597,-6H634l5,6-5,6H597z"/><path class="by" d="M642,-6H703l5,6-5,6H642z"/>
<path class="bz" d="M709,-6H766l5,6-5,6H709z"/>
<path class="bo" d="M810,-6V6H778L773,0L778,-6z"/>
<use href="#ba" class="ba" x="816"/><use href="#ba" class="ba" x="825"/>
<path class="pl" d="M837,-6H868l5,6-5,6H837z"/>
<path class="pm" d="M874,-6H906V6H874z"/><path class="om" d="M906,-6H932l5,6-5,6H906z"/>
<path class="pc" d="M940,-6H984l5,6-5,6H940z"/>
<path class="f" style="fill:#F060F0;opacity:.5" d="M998,-6H1026l5,6-5,6H998z"/>
<path class="f" style="fill:#909040" d="M1037,-6H1057l5,6-5,6H1037z"/>
<path class="f" style="fill:#FF90A0;opacity:.25" d="M1066,-6H1098l5,6-5,6H1066z"/>
<path class="f" style="fill:#2020C0" d="M1106,-6H1137l5,6-5,6H1106z"/>
<path class="f" style="fill:#00F0F0;opacity:.55" d="M1146,-6H1174V6H1146z"/>
<path class="uc" d="M1272,-6V6H1215L1210,0L1215,-6z"/>
<path class="f" style="fill:#303080" d="M1273,-6H1318V6H1273z"/>
</g>
<g id="r-batac" class="g" transform="translate(0,1117)">
<path class="ln" d="M510,0H1183"/>
<path class="ue" d="M510,-6H539l5,6-5,6H510z"/><path class="bc" d="M550,-6H585l5,6-5,6H550z"/>
<path class="bx" d="M591,-6H628l5,6-5,6H591z"/><path class="by" d="M635,-6H695l5,6-5,6H635z"/>
<path class="bz" d="M701,-6H757l5,6-5,6H701z"/>
<path class="bo" d="M801,-6V6H769L764,0L769,-6z"/>
<use href="#ba" class="ba" x="804"/><use href="#ba" class="ba" x="812"/><use href="#ba" class="ba" x="824"/>
<path class="pl" d="M837,-6H868l5,6-5,6H837z"/>
<path class="pm" d="M874,-6H906V6H874z"/><path class="om" d="M906,-6H928l5,6-5,6H906z"/>
<path class="pc" d="M934,-6H972l5,6-5,6H934z"/>
<path class="f" style="fill:#909040" d="M998,-6H1014V6H998L993,0z"/>
<path class="f" style="fill:#909040" d="M1014,-6H1035l5,6-5,6H1014z"/>
<path class="f" style="fill:#FF3060" d="M1042,-6H1064V6H1042z"/>
<path class="f" style="fill:#F060F0;opacity:.4" d="M1064,-6H1072V6H1064z"/>
<path class="uc" d="M1137,-6V6H1080L1075,0L1080,-6z"/>
<path class="f" style="fill:#303080" d="M1138,-6H1183V6H1138z"/>
</g>
<g id="r-rhizo" class="g" transform="translate(0,1191)">
<path class="ln" d="M451,0H1255"/>
<path class="bo" d="M451,-6H485l5,6-5,6H451z"/><path class="ce" d="M495,-6H527l5,6-5,6H495z"/>
<path class="cf" d="M534,-6H579l5,6-5,6H534z"/><path class="bc" d="M588,-6H623l5,6-5,6H588z"/>
<path class="bx" d="M629,-6H666l5,6-5,6H629z"/><path class="by" d="M672,-6H732l5,6-5,6H672z"/>
<path class="bz" d="M737,-6H796l5,6-5,6H737z"/>
<use href="#ba" class="ba" x="804"/><use href="#ba" class="ba" x="814"/><use href="#ba" class="ba" x="824"/>
<path class="pl" d="M836,-6H868l5,6-5,6H836z"/><path class="pm" d="M874,-6H910l5,6-5,6H874z"/>
<path class="pc" d="M915,-6H946L942,6H915z"/><path class="om" d="M946,-6H970l5,6-5,6H942z"/>
<path class="f" style="fill:#FFA070;opacity:.4" d="M976,-6H1011l5,6-5,6H976z"/>
<path class="f" style="fill:#909040" d="M1022,-6H1048V6H1022z"/>
<path class="cd" d="M1050,-6H1114l5,6-5,6H1050z"/>
<path class="f" style="fill:#909040" d="M1125,-6H1149l5,6-5,6H1125z"/>
<path class="f" style="fill:#909040" d="M1155,-6H1161l5,6-5,6H1155z"/>
<path class="uc" d="M1235,-6V6H1177L1172,0L1177,-6z"/>
<use href="#bal" class="ba" x="1238"/><use href="#bal" class="ba" x="1246"/>
</g>
<g id="r-burk" class="g" transform="translate(0,1265)">
<path class="ln" d="M746,0H1287"/>
<path class="tk" d="M746,-13V13"/>
<path class="bz" d="M748,-6H798l5,6-5,6H748z"/>
<use href="#ba" class="ba" x="807"/><use href="#ba" class="ba" x="816"/><use href="#ba" class="ba" x="826"/>
<path class="pl" d="M837,-6H867l5,6-5,6H837z"/><path class="pm" d="M874,-6H915V6H874z"/>
<path class="pc" d="M917,-6H946L942,6H917z"/><path class="om" d="M946,-6H971l5,6-5,6H942z"/>
<path class="f" style="fill:#6050F0;opacity:.45" d="M986,-6H1016V6H986z"/>
<path class="bg" d="M1018,-6H1051l5,6-5,6H1018z"/><path class="ue" d="M1060,-6H1093V6H1060z"/>
<path class="f" style="fill:#303080" d="M1094,-6H1139V6H1094z"/>
<path class="f" style="fill:#909040" d="M1141,-6H1159V6H1141z"/>
<path class="f" style="fill:#00F0F0;opacity:.55" d="M1161,-6H1190V6H1161z"/>
<path class="f" style="fill:#FF3060" d="M1191,-6H1223V6H1191z"/>
<path class="uc" d="M1287,-6V6H1230L1225,0L1230,-6z"/>
</g>
</g>
</g>
</svg>
